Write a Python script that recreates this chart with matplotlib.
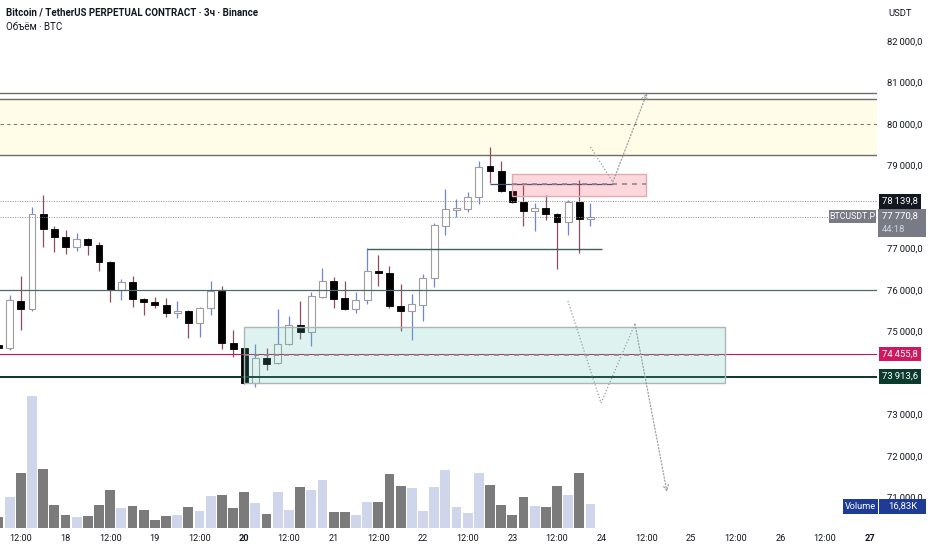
import matplotlib
matplotlib.use("Agg")
import matplotlib.pyplot as plt
from matplotlib.patches import Rectangle
from matplotlib.transforms import blended_transform_factory

plt.rcParams['font.family'] = ['Roboto', 'DejaVu Sans']

# 3h candles, index 0 = 17 Apr 06:00
opens = [74675, 74603, 75735, 75542, 77831, 77470, 77277, 77036, 77229, 77085,
         76675, 76000, 76193, 75783, 75711, 75639, 75446, 75494, 75205, 75566,
         75976, 74723, 74603, 73759, 74362, 74241, 74699, 75157, 74988, 75831,
         76217, 75807, 75542, 75759, 76458, 76410, 75615, 75494, 75639, 76289,
         77542, 77928, 77952, 78241, 78988, 78868, 78386, 78121, 77904, 77976,
         77831, 77639, 78121, 77711]
highs = [74747, 75880, 76337, 78000, 78289, 77542, 77446, 77374, 77253, 77157,
         76690, 76265, 76337, 75807, 75831, 75807, 75735, 75510, 75580, 76217,
         76096, 75036, 74620, 74699, 74603, 75542, 75374, 75735, 75952, 76530,
         76313, 76217, 75952, 77012, 76844, 76579, 76145, 75904, 76386, 77615,
         78434, 78193, 78362, 79108, 79446, 79108, 78400, 78530, 78097, 78289,
         77845, 78169, 78651, 78097]
lows = [74506, 74554, 75036, 75494, 77036, 76916, 76868, 76940, 76844, 76458,
        75711, 75759, 75590, 75398, 75566, 75350, 75325, 74844, 74868, 75398,
        74578, 74386, 73735, 73663, 74072, 74217, 74680, 74819, 74651, 75810,
        75566, 75530, 75446, 75663, 76096, 75566, 75012, 74795, 75253, 76072,
        77325, 77759, 77880, 78072, 78578, 78362, 78100, 77542, 77422, 77687,
        76506, 77325, 76892, 77542]
closes = [74603, 75759, 75542, 77831, 77470, 77277, 77036, 77229, 77085, 76675,
          76000, 76193, 75783, 75711, 75639, 75446, 75494, 75205, 75566, 75976,
          74723, 74578, 73759, 74362, 74217, 74699, 75157, 74988, 75856, 76217,
          75783, 75542, 75759, 76458, 76410, 75615, 75494, 75663, 76289, 77566,
          77952, 77976, 78241, 78964, 78868, 78386, 78121, 77904, 77976, 77831,
          77639, 78121, 77711, 77771]
volumes = [7.7, 21.5, 38.3, 92.6, 41.1, 16.1, 8.9, 7.5, 8.4, 15.9,
           26.4, 14.0, 15.4, 12.9, 5.4, 8.4, 8.9, 14.5, 11.9, 22.4,
           23.1, 13.8, 25.5, 17.5, 9.8, 25.0, 12.6, 29.0, 26.6, 33.7,
           11.5, 11.0, 8.9, 18.0, 18.0, 38.1, 29.7, 28.0, 11.9, 28.8,
           40.7, 15.0, 10.5, 38.8, 30.2, 16.4, 9.4, 22.0, 15.4, 14.5,
           29.7, 23.1, 38.3, 16.83]

tick_pos = [2, 6, 10, 14, 18, 22, 26, 30, 34, 38, 42, 46, 50, 54, 58, 62, 66, 70, 74, 78]
tick_labels = ["12:00", "18", "12:00", "19", "12:00", "20", "12:00", "21", "12:00", "22",
               "12:00", "23", "12:00", "24", "12:00", "25", "12:00", "26", "12:00", "27"]
price_ticks = [71000, 72000, 73000, 75000, 76000, 77000, 79000, 80000, 81000, 82000]

# levels
zone_top = [80747, 80602]
zone_mid = 80000
zone_bottom = 79253
pink_box = (46, 58, 78265, 78795)
green_box = (22, 65, 73752, 75101)
level_76k = 76000
level_red = 74455.8
level_green = 73913.6
mark_price = 78139.8
last_price = 77770.8
line_77k = (33, 54, 76988)
line_navy = (44, 55, 78560)
path_up_x = [53, 55, 58.06]
path_up_y = [79446, 78603, 80747]
path_dn_x = [50.98, 53.94, 56.98, 59.85]
path_dn_y = [75735, 73277, 75181, 71133]

W, H = 932, 550
fig = plt.figure(figsize=(W / 100, H / 100), dpi=100)
fig.patch.set_facecolor('white')
rect = [0, 22 / H, 877 / W, 1 - 22 / H]

axv = fig.add_axes(rect)
ax = fig.add_axes(rect)
ax.patch.set_alpha(0)
xl = (0.134, 78.65)

n = len(opens)
xs = list(range(n))
up = [c >= o for o, c in zip(opens, closes)]

# volume
axv.bar(xs, volumes, width=0.88, color=['#cfd5ea' if u else '#7b7b7b' for u in up], zorder=1)
axv.set_xlim(*xl)
axv.set_ylim(0, 370.4)
axv.axis('off')

ax.set_xlim(*xl)
ax.set_ylim(70265, 82988)

# resistance zone
ax.axhspan(zone_bottom, zone_top[1], color='#fffde8', zorder=0.5, lw=0)
for lv in zone_top + [zone_bottom]:
    ax.axhline(lv, color='#6e6e66', lw=1.0, zorder=2)
ax.axhline(zone_mid, color='#7a7a72', lw=0.8, ls=(0, (3, 3)), zorder=2)

# candles
for i in xs:
    o, h, l, c = opens[i], highs[i], lows[i], closes[i]
    ax.vlines(i, l, h, color='#6f86d6' if up[i] else '#8d4b5c', lw=0.9, zorder=3)
    lo, hgt = min(o, c), max(abs(c - o), 30)
    if up[i]:
        ax.bar(i, hgt, bottom=lo, width=0.62, color='white', edgecolor='#9e9e9e', lw=0.8, zorder=3.5)
    else:
        ax.bar(i, hgt, bottom=lo, width=0.62, color='black', edgecolor='black', lw=0.6, zorder=3.5)

# horizontal levels
ax.axhline(level_76k, color='#4d6b68', lw=0.9, zorder=4)
ax.axhline(level_red, color='#c2185b', lw=0.8, zorder=4)
ax.axhline(level_green, color='#0d3328', lw=1.4, zorder=4)
ax.axhline(mark_price, color='#8a8d96', lw=0.7, ls=(0, (1, 1.5)), zorder=4)
ax.axhline(last_price, color='#8a8d96', lw=0.7, ls=(0, (1, 1.5)), zorder=4)
ax.hlines(line_77k[2], line_77k[0], line_77k[1], color='#3f5f5c', lw=1.0, zorder=4)
ax.hlines(line_navy[2], line_navy[0], line_navy[1], color='#3d4f7a', lw=0.9, zorder=4)

# boxes
x0, x1, y0, y1 = pink_box
ax.add_patch(Rectangle((x0, y0), x1 - x0, y1 - y0, facecolor=(0.94, 0.24, 0.35, 0.2),
                       edgecolor='#e3a9b1', lw=1.0, zorder=5))
ax.hlines(line_navy[2] - 15, x0, x1, color='#8c8a92', lw=1.2, ls=(0, (3, 3)), zorder=5)
x0, x1, y0, y1 = green_box
ax.add_patch(Rectangle((x0, y0), x1 - x0, y1 - y0, facecolor=(0.37, 0.78, 0.69, 0.2),
                       edgecolor='#a9b8b4', lw=1.0, zorder=5))
ax.hlines(level_red - 20, x0, x1, color='#8c8a92', lw=1.2, ls=(0, (3, 3)), zorder=5)

# projected paths
dot = dict(color='#9a9da5', lw=0.9, ls=(0, (1, 1.6)))
ax.plot(path_up_x[:-1], path_up_y[:-1], zorder=6, **dot)
ax.annotate('', xy=(path_up_x[-1], path_up_y[-1]), xytext=(path_up_x[-2], path_up_y[-2]),
            arrowprops=dict(arrowstyle='->', color='#9a9da5', lw=0.9, ls=':', shrinkA=0, shrinkB=0),
            zorder=6)
ax.plot(path_dn_x[:-1], path_dn_y[:-1], zorder=6, **dot)
ax.annotate('', xy=(path_dn_x[-1], path_dn_y[-1]), xytext=(path_dn_x[-2], path_dn_y[-2]),
            arrowprops=dict(arrowstyle='->', color='#9a9da5', lw=0.9, ls=':', shrinkA=0, shrinkB=0),
            zorder=6)

# axes styling
for s in ax.spines.values():
    s.set_visible(False)
ax.yaxis.tick_right()
ax.set_yticks(price_ticks)
ax.set_yticklabels([f"{v // 1000}\u2009{v % 1000:03d},0" for v in price_ticks])
ax.tick_params(axis='y', length=0, pad=7.5, labelsize=6.8, labelcolor='#131722')
ax.set_xticks(tick_pos)
ax.set_xticklabels(tick_labels)
ax.tick_params(axis='x', length=0, pad=4, labelsize=6.6, labelcolor='#131722')
for t in ax.get_xticklabels():
    if t.get_text() in ("20", "27"):
        t.set_fontweight('bold')

# price labels on the right scale
tr = blended_transform_factory(fig.transFigure, ax.transData)
def tag(price, text, bg, fg='white'):
    ax.text(882 / W, price, text, transform=tr, fontsize=6.8, color=fg, va='center', ha='left',
            zorder=10, bbox=dict(boxstyle='square,pad=0.3', fc=bg, ec='none'),
            clip_on=False)

tag(mark_price, "78\u2009139,8", '#131722')
tag(level_red, "74\u2009455,8", '#d0185f')
tag(level_green, "73\u2009913,6", '#0c3b2e')

def px(x, y):
    return x / W, 1 - y / H

fig.add_artist(Rectangle(px(878, 237), 48 / W, 28 / H, transform=fig.transFigure,
                         fc='#787b86', ec='none', zorder=10))
fig.text(*px(882, 216.5), "77\u2009770,8", fontsize=6.8, color='white', va='center', zorder=11)
fig.text(*px(882, 229), "44:18", fontsize=6.8, color='#d1d4dc', va='center', zorder=11)
fig.add_artist(Rectangle(px(829, 223), 47 / W, 13 / H, transform=fig.transFigure,
                         fc='#787b86', ec='none', zorder=10))
fig.text(*px(852.5, 216.5), "BTCUSDT.P", fontsize=6.3, color='white', va='center', ha='center', zorder=11)

fig.add_artist(Rectangle(px(843, 514), 35 / W, 15 / H, transform=fig.transFigure,
                         fc='#1e3c96', ec='none', zorder=10))
fig.add_artist(Rectangle(px(879, 514), 47 / W, 15 / H, transform=fig.transFigure,
                         fc='#1e3c96', ec='none', zorder=10))
fig.text(*px(860.5, 506.5), "Volume", fontsize=6.6, color='white', va='center', ha='center', zorder=11)
fig.text(*px(902.5, 506.5), "16,83K", fontsize=6.8, color='white', va='center', ha='center', zorder=11)

fig.text(*px(888, 13), "USDT", fontsize=6.8, color='#131722', va='center')

fig.text(*px(6, 12), "Bitcoin / TetherUS PERPETUAL CONTRACT \u00b7 3\u0447 \u00b7 Binance",
         fontsize=7.0, fontweight='bold', color='#131722', va='center')
fig.text(*px(6, 27), "\u041e\u0431\u044a\u0451\u043c \u00b7 BTC", fontsize=7.0, color='#131722', va='center')

fig.savefig("out.png", dpi=100, facecolor='white')
